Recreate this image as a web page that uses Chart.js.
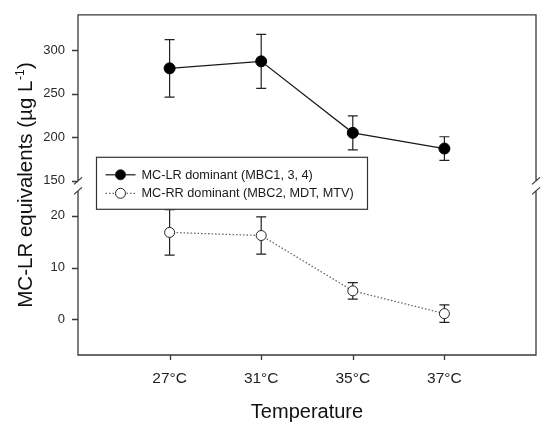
<!DOCTYPE html>
<html lang="en">
<head>
    <meta charset="UTF-8">
    <title>MC-LR equivalents vs temperature</title>
    <script src="https://cdn.jsdelivr.net/npm/chart.js"></script>
    <style>
        body { margin: 0; background: #fff; }
    </style>
</head>
<body>
    <canvas id="myChart" width="550" height="430"></canvas>

<script>
    // data
    const categories = ['27°C', '31°C', '35°C', '37°C'];
    const lrName = 'MC-LR dominant (MBC1, 3, 4)';
    const lrMean = [279, 287, 205, 187];
    const lrErr = [33, 31, 19.5, 13.5];
    const rrName = 'MC-RR dominant (MBC2, MDT, MTV)';
    const rrMean = [16.8, 16.2, 5.5, 1.1];
    const rrErr = [4.4, 3.6, 1.6, 1.7];
    const topTicks = [150, 200, 250, 300];
    const bottomTicks = [0, 10, 20];

    const FONT = '"Liberation Sans", Arial, sans-serif';
    const INK = '#2a2a2a';

    const toPoints = arr => arr.map((v, i) => ({ x: i + 1, y: v }));

    // error bars, drawn before the points so the markers sit on top
    const errorBars = {
        id: 'errorBars',
        beforeDatasetsDraw(chart) {
            const ctx = chart.ctx;
            const xs = chart.scales.x;
            const sets = [
                { mean: lrMean, err: lrErr, y: chart.scales.yTop },
                { mean: rrMean, err: rrErr, y: chart.scales.yBot }
            ];
            ctx.save();
            ctx.strokeStyle = '#222';
            ctx.lineWidth = 1.2;
            sets.forEach(s => {
                s.mean.forEach((m, i) => {
                    const px = xs.getPixelForValue(i + 1);
                    const hi = s.y.getPixelForValue(m + s.err[i]);
                    const lo = s.y.getPixelForValue(m - s.err[i]);
                    ctx.beginPath();
                    ctx.moveTo(px, hi); ctx.lineTo(px, lo);
                    ctx.moveTo(px - 5, hi); ctx.lineTo(px + 5, hi);
                    ctx.moveTo(px - 5, lo); ctx.lineTo(px + 5, lo);
                    ctx.stroke();
                });
            });
            ctx.restore();
        }
    };

    // frame with the axis break, tick marks, titles and the boxed legend
    const decor = {
        id: 'decor',
        afterDraw(chart) {
            const ctx = chart.ctx;
            const a = chart.chartArea;
            const by = chart.scales.yTop.bottom;
            ctx.save();
            ctx.strokeStyle = '#3a3a3a';
            ctx.lineWidth = 1.3;
            ctx.beginPath();
            ctx.moveTo(a.left, by - 5); ctx.lineTo(a.left, a.top);
            ctx.lineTo(a.right, a.top); ctx.lineTo(a.right, by - 5);
            ctx.moveTo(a.left, by + 4); ctx.lineTo(a.left, a.bottom);
            ctx.lineTo(a.right, a.bottom); ctx.lineTo(a.right, by + 4);
            [a.left, a.right].forEach(x => {
                ctx.moveTo(x - 4, by - 2); ctx.lineTo(x + 4, by - 9);
                ctx.moveTo(x - 4, by + 8); ctx.lineTo(x + 4, by + 1);
            });
            // tick marks from the scales' own ticks
            ['yTop', 'yBot'].forEach(id => {
                const s = chart.scales[id];
                s.ticks.forEach(t => {
                    const py = Math.round(s.getPixelForValue(t.value)) + 0.5;
                    ctx.moveTo(a.left - 6, py); ctx.lineTo(a.left, py);
                });
            });
            const xs = chart.scales.x;
            xs.ticks.forEach(t => {
                const px = Math.round(xs.getPixelForValue(t.value)) + 0.5;
                ctx.moveTo(px, a.bottom); ctx.lineTo(px, a.bottom + 5);
            });
            ctx.stroke();

            // x title
            ctx.fillStyle = '#111';
            ctx.font = '20px ' + FONT;
            ctx.textAlign = 'center';
            ctx.textBaseline = 'alphabetic';
            ctx.fillText('Temperature', (a.left + a.right) / 2, 418);

            // y title with superscript
            const main = 'MC-LR equivalents (µg L';
            const sup = '-1';
            const tail = ')';
            ctx.font = '20.5px ' + FONT;
            const w1 = ctx.measureText(main).width;
            const w3 = ctx.measureText(tail).width;
            ctx.font = '12px ' + FONT;
            const w2 = ctx.measureText(sup).width;
            const total = w1 + w2 + w3 + 1;
            ctx.translate(32, (a.top + a.bottom) / 2);
            ctx.rotate(-Math.PI / 2);
            ctx.textAlign = 'left';
            let x0 = -total / 2;
            ctx.font = '20.5px ' + FONT;
            ctx.fillText(main, x0, 0);
            ctx.font = '12px ' + FONT;
            ctx.fillText(sup, x0 + w1 + 0.5, -8);
            ctx.font = '20.5px ' + FONT;
            ctx.fillText(tail, x0 + w1 + w2 + 1, 0);
            ctx.setTransform(1, 0, 0, 1, 0, 0);
            ctx.restore();

            // legend
            ctx.save();
            const lx = a.left + 18.5, ly = a.top + 142.5;
            ctx.fillStyle = '#fff';
            ctx.fillRect(lx, ly, 271, 52);
            ctx.strokeStyle = '#333';
            ctx.lineWidth = 1.2;
            ctx.strokeRect(lx, ly, 271, 52);
            const items = [
                { name: lrName, y: ly + 17.5, dash: [], fill: '#000', line: '#1a1a1a' },
                { name: rrName, y: ly + 36, dash: [1.5, 2], fill: '#fff', line: '#666' }
            ];
            items.forEach(it => {
                ctx.setLineDash(it.dash);
                ctx.strokeStyle = it.line;
                ctx.lineWidth = 1.2;
                ctx.beginPath();
                ctx.moveTo(lx + 9, it.y); ctx.lineTo(lx + 39, it.y);
                ctx.stroke();
                ctx.setLineDash([]);
                ctx.beginPath();
                ctx.arc(lx + 24, it.y, 5, 0, Math.PI * 2);
                ctx.fillStyle = it.fill;
                ctx.fill();
                ctx.strokeStyle = '#222';
                ctx.lineWidth = 1;
                ctx.stroke();
                ctx.fillStyle = '#1a1a1a';
                ctx.font = '12.7px ' + FONT;
                ctx.textAlign = 'left';
                ctx.textBaseline = 'middle';
                ctx.fillText(it.name, lx + 45, it.y + 0.5);
            });
            ctx.restore();
        }
    };

    // keep the library's tick space for layout, but the marks themselves are drawn above
    const hiddenTicks = (len) => ({ display: true, drawOnChartArea: false, drawTicks: true, tickLength: len, tickColor: 'rgba(0,0,0,0)', color: 'rgba(0,0,0,0)' });

    const config = {
        type: 'line',
        data: {
            datasets: [{
                label: lrName,
                data: toPoints(lrMean),
                yAxisID: 'yTop',
                borderColor: '#1a1a1a',
                borderWidth: 1.2,
                pointRadius: 5.5,
                pointBackgroundColor: '#000',
                pointBorderColor: '#000',
                pointBorderWidth: 1
            }, {
                label: rrName,
                data: toPoints(rrMean),
                yAxisID: 'yBot',
                borderColor: '#666',
                borderWidth: 1.3,
                borderDash: [1.5, 2],
                pointRadius: 5,
                pointBackgroundColor: '#fff',
                pointBorderColor: '#222',
                pointBorderWidth: 1
            }]
        },
        options: {
            responsive: false,
            animation: false,
            devicePixelRatio: 1,
            layout: { padding: { top: 10, right: 14, left: 0, bottom: 0 } },
            plugins: { legend: { display: false }, tooltip: { enabled: false } },
            scales: {
                x: {
                    type: 'linear',
                    position: 'bottom',
                    min: 0,
                    max: 5,
                    afterBuildTicks: s => { s.ticks = categories.map((c, i) => ({ value: i + 1 })); },
                    afterFit: s => { s.height = 75; },
                    ticks: {
                        callback: v => categories[v - 1],
                        font: { family: FONT, size: 15.5 },
                        color: '#1e1e1e',
                        padding: 9,
                        maxRotation: 0
                    },
                    grid: hiddenTicks(5),
                    border: { display: false }
                },
                // the left stack is laid out in reverse order, so the lower panel comes first
                yBot: {
                    type: 'linear',
                    position: 'left',
                    stack: 'y',
                    stackWeight: 171,
                    min: -6.9,
                    max: 25.7,
                    afterBuildTicks: s => { s.ticks = bottomTicks.map(v => ({ value: v })); },
                    afterFit: s => { s.width = 78; },
                    ticks: { font: { family: FONT, size: 13 }, color: INK, padding: 7 },
                    grid: hiddenTicks(6),
                    border: { display: false }
                },
                yTop: {
                    type: 'linear',
                    position: 'left',
                    stack: 'y',
                    stackWeight: 174,
                    min: 143.6,
                    max: 340.4,
                    afterBuildTicks: s => { s.ticks = topTicks.map(v => ({ value: v })); },
                    afterFit: s => { s.width = 78; },
                    ticks: { font: { family: FONT, size: 13 }, color: INK, padding: 7 },
                    grid: hiddenTicks(6),
                    border: { display: false }
                }
            }
        },
        plugins: [errorBars, decor]
    };

    const myChart = new Chart(document.querySelector('#myChart'), config);
</script>
</body>
</html>
